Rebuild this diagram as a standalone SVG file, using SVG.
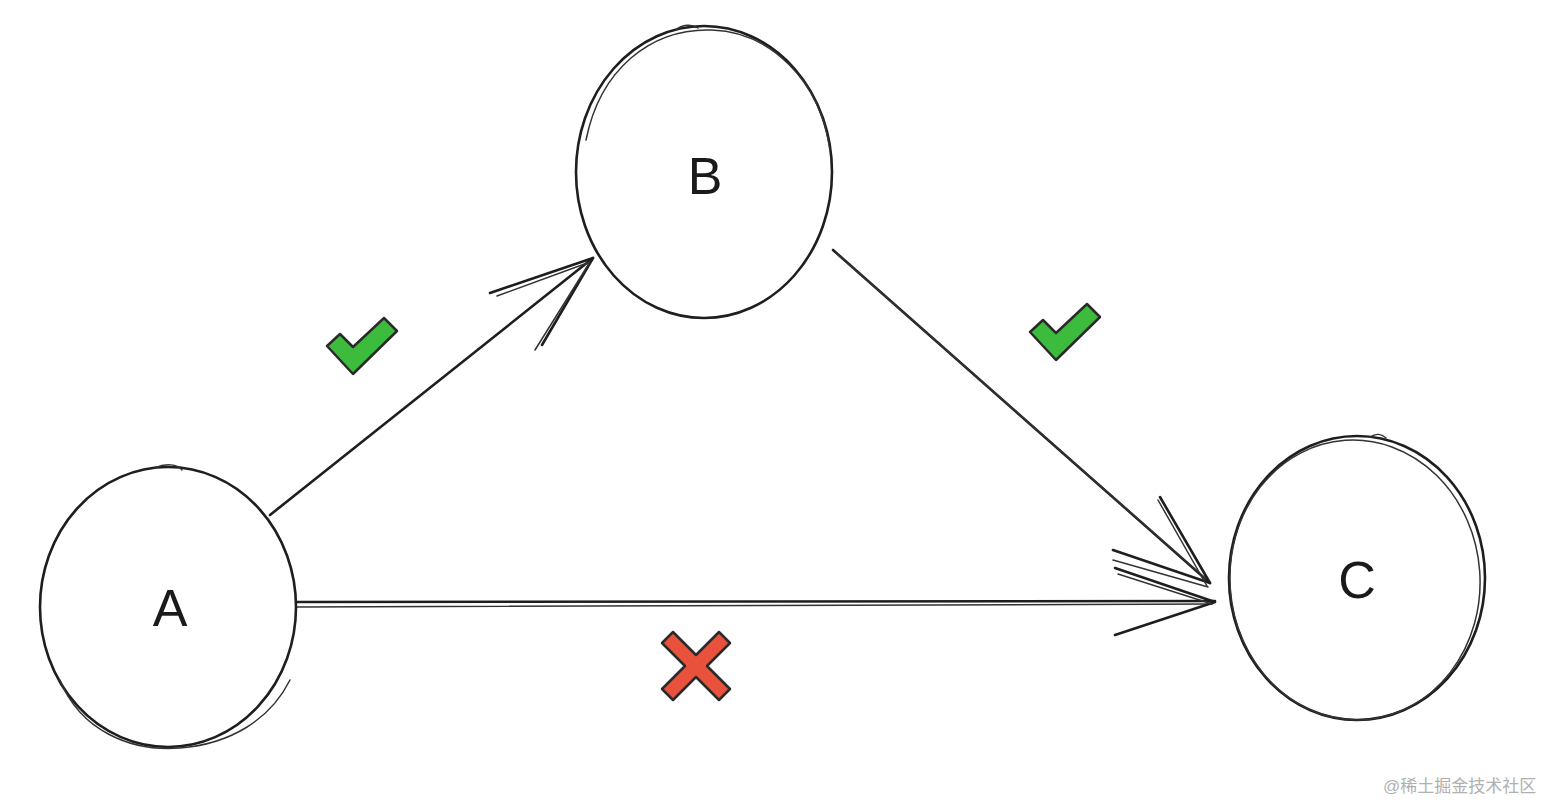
<svg xmlns="http://www.w3.org/2000/svg" width="1550" height="804" viewBox="0 0 1550 804">
<style>
.ol{fill:none;stroke:#1e1e1e;stroke-width:2.6;stroke-linecap:round}
.ol2{fill:none;stroke:#333;stroke-width:1.5;stroke-linecap:round}
.lbl{font-family:"Liberation Sans",sans-serif;font-size:52px;fill:#1a1a1a;text-anchor:middle}
.ok{fill:#3dbb3d;stroke:#2a2a2a;stroke-width:2.5;stroke-linejoin:round}
.no{fill:#e8513c;stroke:#2a2a2a;stroke-width:2.5;stroke-linejoin:round}
.wm{font-family:"Liberation Sans","Noto Sans CJK SC",sans-serif;font-size:17px;fill:#b0b0b0}
</style>
<rect width="1550" height="804" fill="#fff"/>
<g id="connectors">
<g id="a-b">
<path class="ol" d="M270 515 L593 258"/>
<path class="ol" d="M593 258 L490 293 M593 258 L542 345"/>
<path class="ol2" d="M590 262 L497 296 M590 262 L535 350"/>
</g>
<g id="b-c">
<path class="ol" d="M833 250 L1210 583"/>
<path class="ol2" d="M836 253 L1206 579"/>
<path class="ol" d="M1210 583 L1160 497 M1210 583 L1113 550"/>
<path class="ol2" d="M1207 586 L1158 500 M1208 587 L1113 560"/>
</g>
<g id="a-c">
<path class="ol" d="M297 602 L1215 601"/>
<path class="ol2" d="M297 607 L1212 604"/>
<path class="ol" d="M1215 602 L1115 568 M1215 602 L1115 635"/>
<path class="ol2" d="M1212 604 L1118 574"/>
</g>
</g>
<g id="node-a">
<ellipse class="ol" cx="168" cy="607" rx="128" ry="140"/>
<path class="ol2" d="M60 680 C80 730 130 752 180 748 C230 744 270 720 290 680"/>
<path class="ol2" d="M155 468 C165 463 178 464 182 470"/>
<text class="lbl" x="170" y="626">A</text>
</g>
<g id="node-b">
<ellipse class="ol" cx="704" cy="172" rx="128" ry="146"/>
<path class="ol2" d="M586 140 C600 70 650 28 712 30 C770 32 820 80 830 150"/>
<path class="ol2" d="M676 30 C682 24 692 24 698 28"/>
<text class="lbl" x="705" y="194">B</text>
</g>
<g id="node-c">
<ellipse class="ol" cx="1357" cy="578" rx="128" ry="142"/>
<ellipse class="ol2" cx="1355" cy="580" rx="125" ry="140" transform="rotate(-4 1355 580)"/>
<path class="ol2" d="M1370 437 C1376 433 1382 434 1386 438"/>
<text class="lbl" x="1357" y="598">C</text>
</g>
<g id="check-ab">
<polygon class="ok" points="327,346 340,334 353,347 384,318 397,331 353,374"/>
</g>
<g id="check-bc">
<polygon class="ok" points="1030,332 1043,320 1056,333 1087,304 1100,317 1056,360"/>
</g>
<g id="cross-ac">
<polygon class="no" points="662,643 673,632 696,655 719,632 730,643 707,666 730,689 719,700 696,677 673,700 662,689 685,666"/>
</g>
<text class="wm" x="1383" y="792">@稀土掘金技术社区</text>
</svg>
